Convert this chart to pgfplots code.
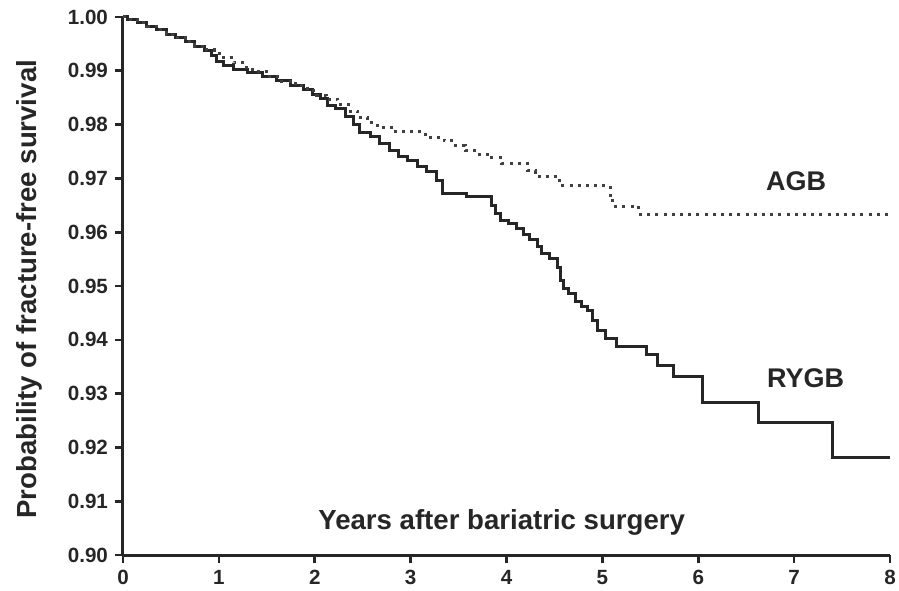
\documentclass[border=0pt]{standalone}
\usepackage{fontspec}
\setmainfont{Liberation Sans}
\usepackage{pgfplots}
\pgfplotsset{compat=1.18}
\begin{document}
\begin{tikzpicture}
\begin{axis}[
  at={(0,0)}, anchor=south west,
  scale only axis, width=383.5pt, height=269pt,
  xmin=0, xmax=8, ymin=0.90, ymax=1.00,
  axis lines=left, axis line style={-, line width=1.5pt, black!85},
  xtick={0,1,...,8},
  ytick={0.90,0.91,0.92,0.93,0.94,0.95,0.96,0.97,0.98,0.99,1.00},
  tick align=outside, major tick length=4pt,
  tick style={line width=1.3pt, black!85},
  /pgf/number format/assume math mode=true,
  yticklabel style={/pgf/number format/.cd, fixed, zerofill, precision=2},
  ticklabel style={font=\fontsize{10.3}{12}\selectfont\bfseries, text=black!85},
  clip=false,
]
\addplot[const plot, line width=1.5pt, black!85] coordinates {
(0,1.000) (0.05,0.9995) (0.15,0.9990) (0.25,0.9983) (0.35,0.9976) (0.45,0.9968)
(0.55,0.9961) (0.65,0.9954) (0.75,0.9946) (0.85,0.9938) (0.92,0.9928) (0.98,0.9918)
(1.05,0.9910) (1.15,0.9903) (1.30,0.9897) (1.45,0.9889) (1.60,0.9882) (1.75,0.9873)
(1.88,0.9866) (1.98,0.9856) (2.06,0.9848) (2.13,0.9835) (2.22,0.9830) (2.32,0.9815)
(2.40,0.9800) (2.47,0.9785) (2.58,0.9778) (2.68,0.9765) (2.78,0.9752) (2.87,0.9740)
(2.97,0.9733) (3.07,0.9723) (3.17,0.9712) (3.27,0.9697) (3.33,0.9672) (3.58,0.9667)
(3.84,0.9650) (3.89,0.9635) (3.94,0.9622) (4.02,0.9617) (4.10,0.9607) (4.18,0.9595)
(4.24,0.9586) (4.32,0.9573) (4.37,0.9560) (4.45,0.9552) (4.53,0.9535) (4.56,0.9510)
(4.59,0.9495) (4.65,0.9486) (4.72,0.9472) (4.78,0.9462) (4.84,0.9455) (4.90,0.9435)
(4.95,0.9418) (5.03,0.9403) (5.15,0.9387) (5.46,0.9373) (5.57,0.9353) (5.74,0.9331)
(6.04,0.9284) (6.63,0.9247) (7.40,0.9182) (8.00,0.9182)
};
\addplot[const plot, line width=1.5pt, black!75, dash pattern=on 1.5pt off 2.6pt] coordinates {
(0,1.000) (0.05,0.9995) (0.15,0.9990) (0.25,0.9983) (0.35,0.9976) (0.45,0.9968)
(0.55,0.9961) (0.65,0.9954) (0.75,0.9946) (0.85,0.9939) (0.95,0.9932) (1.05,0.9924)
(1.15,0.9915) (1.25,0.9906) (1.35,0.9898) (1.50,0.9889) (1.65,0.9881) (1.80,0.9872)
(1.92,0.9864) (2.02,0.9855) (2.12,0.9847) (2.24,0.9838) (2.35,0.9825) (2.45,0.9813)
(2.55,0.9803) (2.65,0.9795) (2.80,0.9787) (3.15,0.9776) (3.35,0.9770) (3.45,0.9762)
(3.57,0.9752) (3.70,0.9745) (3.82,0.9738) (3.95,0.9728) (4.22,0.9714) (4.30,0.9704)
(4.55,0.9687) (5.08,0.9665) (5.11,0.9648) (5.38,0.9633) (8.00,0.9633)
};
\node[anchor=base, font=\fontsize{13.5}{15}\selectfont\bfseries, text=black!85] at (axis cs:7.02,0.9678) {AGB};
\node[anchor=base, font=\fontsize{13.5}{15}\selectfont\bfseries, text=black!85] at (axis cs:7.12,0.9312) {RYGB};
\node[anchor=base, font=\fontsize{13.8}{15}\selectfont\bfseries, text=black!85] at (axis cs:3.95,0.9047) {Years after bariatric surgery};
\node[anchor=base, rotate=90, font=\fontsize{13.8}{15}\selectfont\bfseries, text=black!85] at ([xshift=-43pt]axis cs:0,0.9494) {Probability of fracture-free survival};
\end{axis}
\pgfresetboundingbox
\path[use as bounding box] (-61.5pt,-17.5pt) rectangle (388pt,277.5pt);
\end{tikzpicture}
\end{document}
